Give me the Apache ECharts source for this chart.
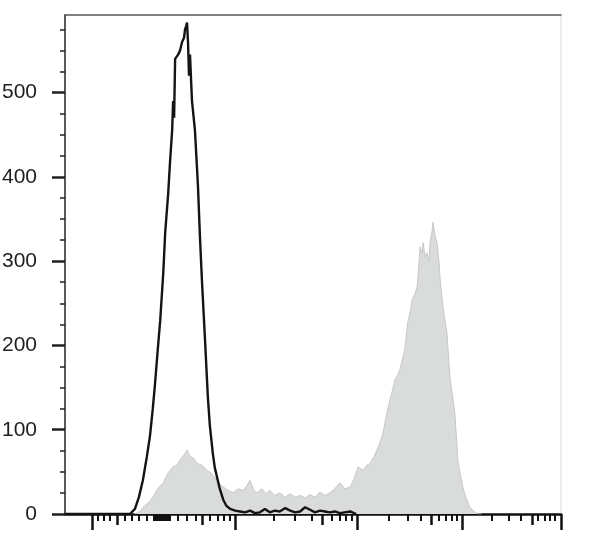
<!DOCTYPE html>
<html>
<head>
<meta charset="utf-8">
<script src="https://cdn.jsdelivr.net/npm/echarts@6/dist/echarts.min.js"></script>
<style>
html,body{margin:0;padding:0;background:#fff;}
#chart{width:608px;height:545px;}
</style>
</head>
<body>
<div id="chart"></div>
<script>
// Channel positions (display scale 0-1000) and event counts
var blackX = [0,71,111,131,141,149,157,165,171,177,181,187,192,198,202,208,212,216,218,220,222,226,228,232,236,240,242,244,246,248,250,252,256,262,268,272,276,282,288,292,298,302,308,312,319,325,333,343,353,363,373,383,393,403,413,423,433,444,454,464,474,484,494,504,514,524,534,544,554,564,575,587];
var blackY = [0,0,0,0,6,20,40,68,91,125,151,195,230,285,334,380,420,455,490,470,540,540,545,550,560,565,575,578,583,560,520,545,490,455,390,330,278,210,139,105,72,55,40,30,17,10,6,4,3,2,4,1,2,6,2,4,3,7,4,2,3,8,5,2,4,3,2,3,1,2,3,0];

var grayX = [140,151,161,171,177,187,198,208,218,226,232,240,246,252,260,266,276,286,296,306,312,319,329,339,349,359,367,373,381,387,397,405,413,423,433,444,454,464,474,484,494,504,514,524,534,544,554,564,575,583,591,601,609,615,623,629,635,641,649,655,659,665,671,675,681,685,691,696,700,706,710,714,716,720,722,726,730,734,736,740,742,746,750,754,756,762,766,770,776,780,786,792,796,802,808,816,827,833,840];
var grayY = [0,3,10,15,20,30,37,49,56,58,64,70,76,68,66,60,58,52,48,40,36,32,28,25,30,28,34,40,28,25,30,24,28,22,25,20,24,20,22,19,23,20,26,22,25,30,37,30,32,42,56,52,58,60,68,76,85,96,120,135,144,159,165,171,185,195,227,240,254,262,270,300,317,310,322,305,310,300,322,335,346,330,322,300,281,246,230,215,163,145,120,64,50,32,20,8,2,0,0];

// Axis ticks (no x labels in the original)
var xMajorTicks = [54,343,589,800,1000];
var xMidTicks = [105,276,518,738,942];
var xMinorTicks = [67,79,91,121,135,149,165,179,183,187,191,195,199,203,207,211,228,246,264,292,308,321,333,421,464,498,538,554,567,579,653,691,718,754,768,780,790,861,895,919,954,968,978,988];
var yTickLabels = [0,100,200,300,400,500];
var yMinorTicks = [25,50,75,125,150,175,225,250,275,325,350,375,425,450,475,525,550,575];

function zip(xs, ys){ var out=[]; for (var i=0;i<xs.length;i++) out.push([xs[i], ys[i]]); return out; }

var chart = echarts.init(document.getElementById('chart'), null, {renderer:'canvas'});
var XMIN = 0, XMAX = 1000, YMIN = 0, YMAX = 592;
function xAx(opts){
  return Object.assign({
    type:'value', min:XMIN, max:XMAX, position:'bottom',
    axisLine:{show:false, onZero:false},
    axisTick:{show:false},
    axisLabel:{show:false},
    splitLine:{show:false}
  }, opts);
}
function yAx(opts){
  return Object.assign({
    type:'value', min:YMIN, max:YMAX, position:'left',
    axisLine:{show:false, onZero:false},
    axisTick:{show:false},
    axisLabel:{show:false},
    splitLine:{show:false}
  }, opts);
}
var option = {
  animation:false,
  backgroundColor:'#ffffff',
  grid:{left:65, right:47, top:15, bottom:31, containLabel:false, outerBoundsMode:'none'},
  xAxis:[
    xAx({axisLine:{show:true, onZero:false, lineStyle:{color:'#111', width:2.5}},
         axisTick:{show:true, customValues:xMajorTicks, length:16, lineStyle:{color:'#111', width:2.5}}}),
    xAx({axisTick:{show:true, customValues:xMidTicks, length:11, lineStyle:{color:'#111', width:2.5}}}),
    xAx({axisTick:{show:true, customValues:xMinorTicks, length:7, lineStyle:{color:'#111', width:2}}}),
    xAx({position:'top', axisLine:{show:true, onZero:false, lineStyle:{color:'#555', width:1.5}}})
  ],
  yAxis:[
    yAx({axisLine:{show:true, onZero:false, lineStyle:{color:'#222', width:1.5}},
         axisTick:{show:true, customValues:yTickLabels, length:13, lineStyle:{color:'#222', width:2.5}},
         axisLabel:{show:true, customValues:yTickLabels, margin:28, fontSize:21,
                    fontFamily:'Liberation Sans, Arial, sans-serif', color:'#1f1f1f'}}),
    yAx({axisTick:{show:true, customValues:yMinorTicks, length:5, lineStyle:{color:'#222', width:1.5}}}),
    yAx({position:'right', axisLine:{show:true, onZero:false, lineStyle:{color:'#e6e6e6', width:1.5}}})
  ],
  series:[
    {type:'line', xAxisIndex:0, yAxisIndex:0, data:zip(grayX, grayY), showSymbol:false, symbol:'none',
     lineStyle:{color:'#c6c8c8', width:1}, areaStyle:{color:'#dadcdc', opacity:1}, z:2},
    {type:'line', xAxisIndex:0, yAxisIndex:0, data:zip(blackX, blackY), showSymbol:false, symbol:'none',
     lineStyle:{color:'#141414', width:2.4}, z:3}
  ]
};
chart.setOption(option);
</script>
</body>
</html>
